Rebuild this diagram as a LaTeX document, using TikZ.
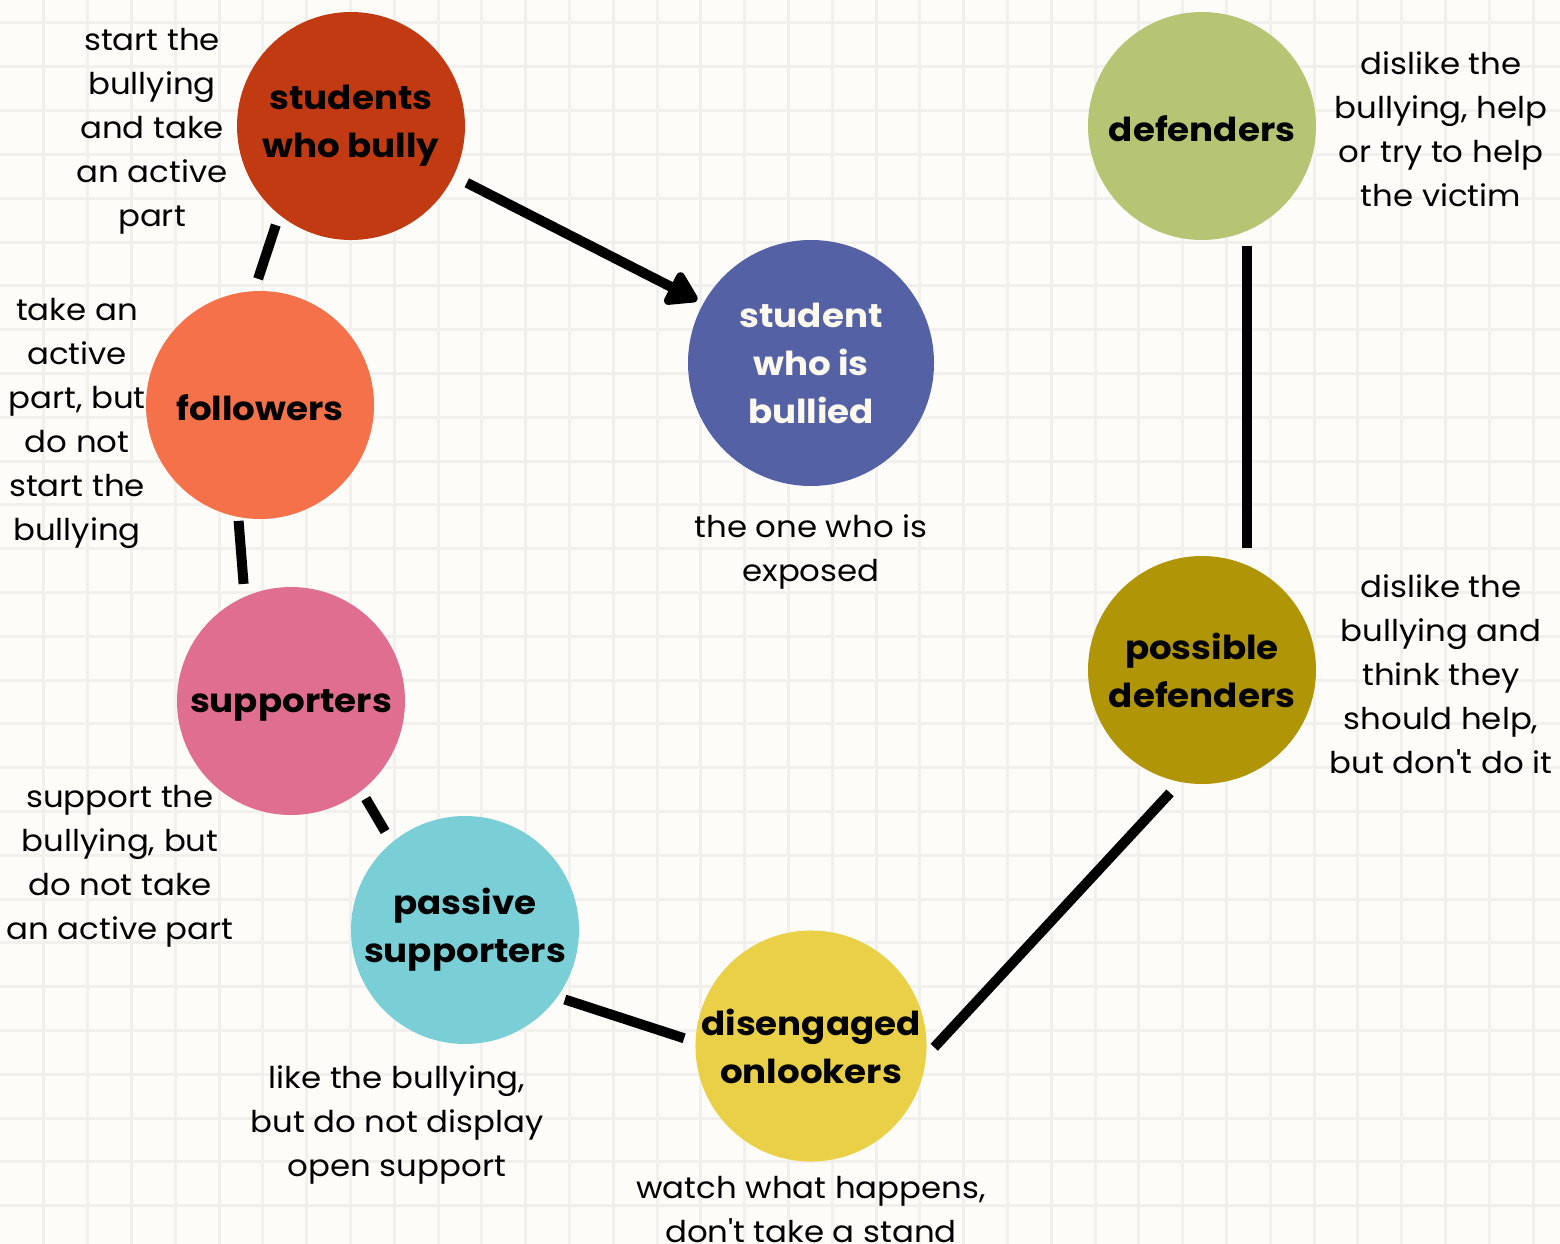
\documentclass[tikz,border=0pt]{standalone}
\usepackage{fontspec}
\setmainfont{Poppins}[FakeStretch=1.08]
\usetikzlibrary{arrows.meta}
\definecolor{bg}{HTML}{FDFCF9}
\definecolor{gridc}{HTML}{F1F0EC}
\definecolor{cbully}{HTML}{C13A12}
\definecolor{cbullied}{HTML}{5461A5}
\definecolor{cdef}{HTML}{B5C574}
\definecolor{cfol}{HTML}{F47149}
\definecolor{csup}{HTML}{E06E8F}
\definecolor{cpas}{HTML}{79CFD5}
\definecolor{cdis}{HTML}{EAD046}
\definecolor{cpos}{HTML}{B09507}
\definecolor{cream}{HTML}{FDF9EF}
\begin{document}
\begin{tikzpicture}[x=1pt,y=-1pt,
  role/.style={circle, minimum size=228pt, inner sep=0pt, outer sep=0pt, align=center,
    font=\bfseries\fontsize{33}{48}\selectfont,
    execute at begin node={\rule{0pt}{32pt}}},
  desc/.style={align=center, inner sep=0pt, font=\fontsize{30}{44}\selectfont},
  link/.style={line width=10pt, black},
  gridline/.style={line width=3pt, gridc}]
\useasboundingbox (0,0) rectangle (1560,1244);
\fill[bg] (0,0) rectangle (1560,1244);
\foreach \i in {1,...,35} \draw[gridline] (\i*43.8,0) -- (\i*43.8,1244);
\foreach \j in {0,...,27} \draw[gridline] (0,23+\j*43.8) -- (1560,23+\j*43.8);

\node[role, fill=cbully] (bully) at (351,126) {students\\who bully};
\node[role, fill=cbullied, minimum size=246pt, text=cream] (bullied) at (811,363) {student\\who is\\bullied};
\node[role, fill=cdef] (def) at (1202,126) {defenders};
\node[role, fill=cfol] (fol) at (260,405) {followers};
\node[role, fill=csup] (sup) at (291,701) {supporters};
\node[role, fill=cpas] (pas) at (465,930) {passive\\supporters};
\node[role, fill=cdis] (dis) at (811,1046) {disengaged\\onlookers};
\node[role, fill=cpos] (pos) at (1202,670) {possible\\defenders};

\node[desc] (dbully) at (152,131) {start the\\bullying\\and take\\an active\\part};
\node[desc] (dfol) at (77,423) {take an\\active\\part, but\\do not\\start the\\bullying};
\node[desc] (dbullied) at (811,552) {the one who is\\exposed};
\node[desc] (ddef) at (1441,129) {dislike the\\bullying, help\\or try to help\\the victim};
\node[desc] (dpos) at (1441,674) {dislike the\\bullying and\\think they\\should help,\\but don\textquotesingle t do it};
\node[desc] (dsup) at (120,866) {support the\\bullying, but\\do not take\\an active part};
\node[desc] (dpas) at (397,1125) {like the bullying,\\but do not display\\open support};
\node[desc] (ddis) at (811,1210) {watch what happens,\\don\textquotesingle t take a stand};

\draw[link, -{Triangle[length=34pt,width=40pt,round]}, shorten <=15pt, shorten >=7pt] (bully.-26) -- (bullied.151);
\draw[link, shorten <=11pt, shorten >=13pt] (bully.231) -- (fol.93);
\draw[link, shorten <=4pt, shorten >=13pt] (fol.259) -- (sup.114);
\draw[link, shorten <=9pt, shorten >=13pt] (sup.-52) -- (pas.130);
\draw[link, shorten <=8pt, shorten >=12pt] (pas.-36) -- (dis.178);
\draw[link, shorten <=12pt, shorten >=15pt] (dis.-5) -- (pos.259);
\draw[link, shorten <=17pt, shorten >=15pt] (pos.67) -- (def.-67);
\end{tikzpicture}
\end{document}
